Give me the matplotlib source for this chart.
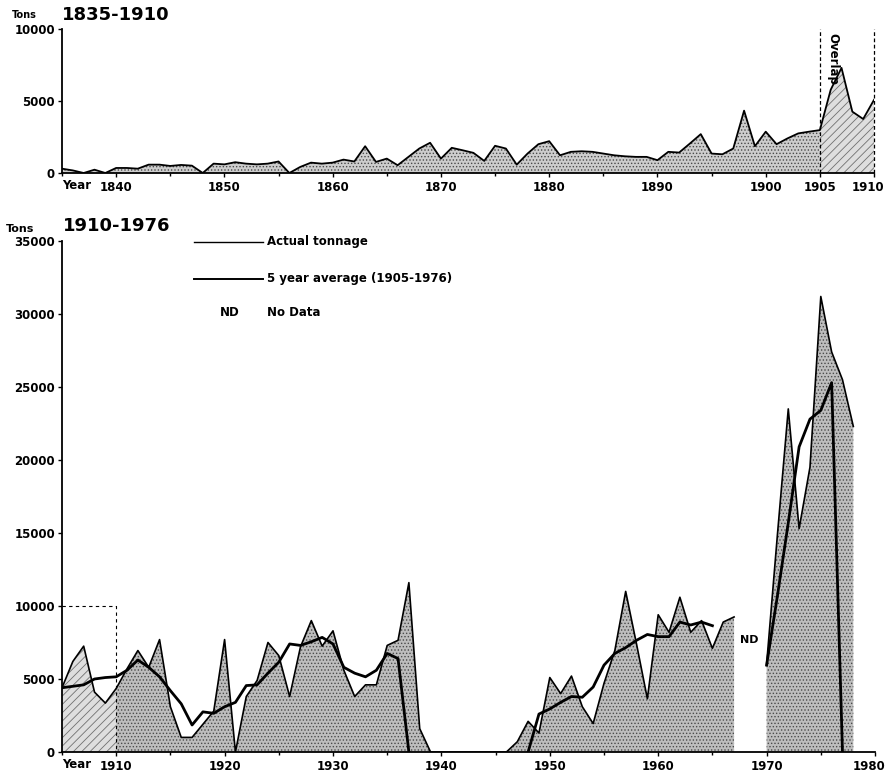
"""
Annual tonnage 1835-1910 and 1910-1976, redrawn from the scanned figure.
"""

import numpy as np
import matplotlib
matplotlib.use('Agg')
import matplotlib.pyplot as plt
from matplotlib.transforms import ScaledTranslation

plt.rcParams['font.family'] = 'DejaVu Sans'
plt.rcParams['hatch.linewidth'] = 0.6

# ---- values ----
years_early = np.arange(1835, 1911)
tons_early = [300, 180, 0, 230, 0, 350, 350, 300, 580, 580,
              490, 560, 510, 0, 650, 600, 750, 650, 600, 650,
              800, 0, 420, 720, 650, 720, 930, 800, 1860, 770,
              1000, 540, 1120, 1700, 2100, 1000, 1750, 1580, 1400, 840,
              1890, 1700, 580, 1350, 2000, 2210, 1230, 1470, 1510, 1470,
              1350, 1230, 1160, 1120, 1120, 890, 1470, 1420, 2050, 2700,
              1350, 1300, 1700, 4330, 1860, 2870, 2000, 2400, 2750, 2870,
              2980, 5780, 7300, 4260, 3750, 5080]

nan = np.nan
years_late = np.arange(1905, 1979)
tons_late = [4400, 6200, 7250, 4100, 3350, 4350, 5700, 6950, 5800, 7700,
             3100, 1000, 1000, 1900, 2800, 7700, 0, 3800, 4900, 7500,
             6600, 3800, 7200, 9000, 7250, 8300, 5600, 3800, 4600, 4600,
             7300, 7650, 11600, 1600, 0, 0, 0, 0, 0, 0,
             0, 0, 700, 2100, 1300, 5100, 4000, 5200, 3100, 1950,
             4700, 6950, 11000, 7400, 3650, 9400, 8200, 10600, 8200, 9000,
             7100, 8900, 9250, nan, nan, 6000, 14900, 23500, 15300, 19500,
             31200, 27400, 25500, 22300]
avg_late = [4400, 4500, 4600, 5000, 5100, 5150, 5600, 6300, 5800, 5150,
            4200, 3300, 1850, 2750, 2650, 3100, 3400, 4550, 4600, 5400,
            6150, 7400, 7300, 7550, 7850, 7400, 5800, 5400, 5150, 5600,
            6750, 6400, 0, nan, nan, nan, nan, nan, nan, nan,
            nan, nan, nan, 0, 2600, 2950, 3400, 3800, 3750, 4450,
            5950, 6750, 7150, 7650, 8050, 7900, 7900, 8900, 8700, 8900,
            8650, nan, nan, nan, nan, 5950, 10700, 15700, 20900, 22800,
            23400, 25300, 0, nan]

overlap_start, overlap_end = 1905, 1910

early_ticks = [1840, 1850, 1860, 1870, 1880, 1890, 1900, 1905, 1910]
late_ticks = [1910, 1920, 1930, 1940, 1950, 1960, 1970, 1980]

tons_early = np.array(tons_early, dtype=float)
tons_late = np.array(tons_late, dtype=float)
avg_late = np.array(avg_late, dtype=float)

TICK_FS = 8.5


def stipple(ax, x, y, face):
    ax.fill_between(x, 0, y, facecolor=face, edgecolor='#4a4a4a',
                    hatch='.....', linewidth=0, zorder=1)


def overlap_fill(ax, x, y):
    ax.fill_between(x, 0, y, facecolor='#dedede', edgecolor='#707070',
                    hatch='////', linewidth=0, zorder=1)


def style_axis(ax, fig, xlim, ylim, xticks, yticks):
    ax.set_xlim(*xlim)
    ax.set_ylim(*ylim)
    for side in ('top', 'right'):
        ax.spines[side].set_visible(False)
    for side in ('left', 'bottom'):
        ax.spines[side].set_linewidth(1.3)
    ax.set_xticks(xticks)
    ax.set_xticks(np.arange(xlim[0], xlim[1] + 1, 5), minor=True)
    ax.set_yticks(yticks)
    ax.tick_params(axis='both', which='both', direction='out', width=1,
                   labelsize=TICK_FS)
    ax.tick_params(axis='x', which='major', length=3, pad=2.5)
    ax.tick_params(axis='x', which='minor', length=2.5)
    ax.tick_params(axis='y', length=3, pad=2)
    for lab in ax.get_xticklabels() + ax.get_yticklabels():
        lab.set_fontweight('bold')
    # the last year label sits a little left of its tick, as in the print
    last = ax.get_xticklabels()[-1]
    last.set_transform(last.get_transform() +
                       ScaledTranslation(-4 / 72, 0, fig.dpi_scale_trans))
    ax.annotate('Year', xy=(0, 0), xycoords='axes fraction',
                xytext=(0, -4), textcoords='offset points',
                ha='left', va='top', fontsize=TICK_FS, fontweight='bold')


fig = plt.figure(figsize=(8.89, 7.77), dpi=100)

# ---- 1835-1910 ----
ax = fig.add_axes([62 / 889, 1 - 173 / 777, 812 / 889, 144 / 777])
early_main = years_early <= overlap_start
early_over = years_early >= overlap_start
stipple(ax, years_early[early_main], tons_early[early_main], '#cdcdcd')
overlap_fill(ax, years_early[early_over], tons_early[early_over])
ax.plot(years_early, tons_early, color='black', linewidth=1.3, zorder=3)
ax.vlines([overlap_start, overlap_end], 0, 10000, colors='black',
          linestyles=(0, (3, 2)), linewidth=0.9, zorder=4, clip_on=False)
ax.text(1905.6, 9700, 'Overlap', rotation=270, ha='left', va='top',
        fontsize=8.5, fontweight='bold')
style_axis(ax, fig, (1835, 1910), (0, 10000), early_ticks, [0, 5000, 10000])

fig.text(12 / 889, 1 - 15 / 777, 'Tons', fontsize=7, fontweight='bold',
         ha='left', va='center')
fig.text(62 / 889, 1 - 15 / 777, '1835-1910', fontsize=13, fontweight='bold',
         ha='left', va='center')

# ---- 1910-1976 ----
ax = fig.add_axes([62 / 889, 1 - 752 / 777, 813 / 889, 511 / 777])
late_over = years_late <= overlap_end
late_main = years_late >= overlap_end
overlap_fill(ax, years_late[late_over], tons_late[late_over])
stipple(ax, years_late[late_main], tons_late[late_main], '#bdbdbd')
ax.plot(years_late, tons_late, color='black', linewidth=1.2, zorder=3)
ax.plot(years_late, avg_late, color='black', linewidth=2.0, zorder=4)
ax.plot([overlap_start, overlap_end, overlap_end], [10000, 10000, 0],
        color='black', linestyle=(0, (3, 3)), linewidth=0.8, zorder=4)
ax.text(1968.4, 7700, 'ND', fontsize=8, fontweight='bold',
        ha='center', va='center')
style_axis(ax, fig, (1905, 1980), (0, 35000), late_ticks,
           np.arange(0, 35001, 5000))

fig.text(6 / 889, 1 - 229 / 777, 'Tons', fontsize=8, fontweight='bold',
         ha='left', va='center')
fig.text(63 / 889, 1 - 226 / 777, '1910-1976', fontsize=13, fontweight='bold',
         ha='left', va='center')

# legend drawn by hand, as in the original
legend_rows = [(242, 'Actual tonnage', 1.0),
               (279, '5 year average (1905-1976)', 1.4)]
for ypix, label, lw in legend_rows:
    yf = 1 - ypix / 777
    fig.add_artist(plt.Line2D([194 / 889, 263 / 889], [yf, yf],
                              color='black', linewidth=lw))
    fig.text(267 / 889, yf, label, fontsize=8.5, fontweight='bold',
             ha='left', va='center')
fig.text(220 / 889, 1 - 313 / 777, 'ND', fontsize=8.5, fontweight='bold',
         ha='left', va='center')
fig.text(267 / 889, 1 - 313 / 777, 'No Data', fontsize=8.5, fontweight='bold',
         ha='left', va='center')

plt.savefig('out.png', dpi=100)
plt.close()
